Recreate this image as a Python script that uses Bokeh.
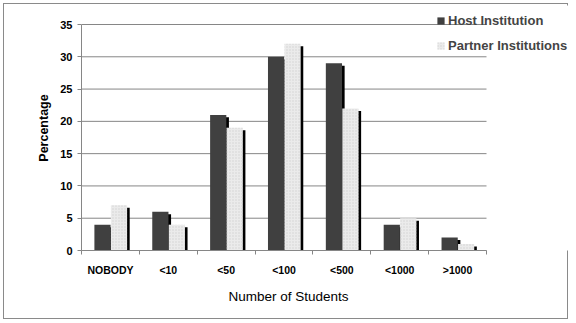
from bokeh.plotting import figure
from bokeh.models import (ColumnDataSource, FixedTicker, Legend, LegendItem, Range1d,
                          Title, InlineStyleSheet)
from bokeh.embed import file_html
from bokeh.resources import INLINE

categories = ["NOBODY", "<10", "<50", "<100", "<500", "<1000", ">1000"]
host = [4, 6, 21, 30, 29, 4, 2]
partner = [7, 4, 19, 32, 22, 5, 1]
y_ticks = [0, 5, 10, 15, 20, 25, 30, 35]

n = len(categories)
idx = list(range(n))
bw = 0.28
host_x = [i + 0.363 for i in idx]
partner_x = [i + 0.648 for i in idx]
dx = 0.045   # shadow offset (data units ~2.5px)
dy = 0.38

src = ColumnDataSource(dict(
    hx=host_x, px=partner_x,
    hsx=[x + dx for x in host_x], psx=[x + dx for x in partner_x],
    host=host, partner=partner,
    hs=[v - dy for v in host], ps=[v - dy for v in partner],
))

W, H = 571, 322
left, right, top, bottom = 81, 2, 5, 72
px_per_cat = 405 / n
px_per_unit = 226 / 35
x_end = (W - left - right) / px_per_cat
y_end = (H - top - bottom) / px_per_unit

p = figure(width=W, height=H, output_backend="svg", toolbar_location=None,
           x_range=Range1d(0, x_end), y_range=Range1d(0, y_end),
           min_border_left=left, min_border_right=right, min_border_top=top,
           min_border_bottom=bottom)
p.outline_line_color = None
p.background_fill_color = "white"
p.border_fill_alpha = 0
p.stylesheets = [InlineStyleSheet(css=":host { outline: 1.5px solid #8a8a8a; outline-offset: -4px; }")]

# grid lines (bounded to the category span)
p.segment(x0=[0] * len(y_ticks), x1=[n] * len(y_ticks), y0=y_ticks, y1=y_ticks,
          line_color="#868686", line_width=1)

# shadows and bars
p.vbar(x="hsx", top="hs", width=bw, bottom=0, source=src,
       fill_color="black", line_color=None)
r_host = p.vbar(x="hx", top="host", width=bw, bottom=0, source=src,
                fill_color="#404040", line_color=None)
p.vbar(x="psx", top="ps", width=bw, bottom=0, source=src,
       fill_color="black", line_color=None)
r_part = p.vbar(x="px", top="partner", width=bw, bottom=0, source=src,
                fill_color="#ebebeb", line_color=None,
                hatch_pattern="dot", hatch_color="#d2d2d2", hatch_scale=3,
                hatch_weight=1)

# axes
p.xgrid.grid_line_color = None
p.ygrid.grid_line_color = None
p.yaxis.ticker = FixedTicker(ticks=y_ticks)
p.xaxis.ticker = FixedTicker(ticks=[i + 0.5 for i in idx],
                             minor_ticks=list(range(n + 1)))
p.xaxis.major_label_overrides = {i + 0.5: c for i, c in enumerate(categories)}
p.xaxis.bounds = (0, n)
p.yaxis.bounds = (0, 35)

for ax in (p.xaxis[0], p.yaxis[0]):
    ax.axis_line_color = "#868686"
    ax.major_label_text_font = "Liberation Sans"
    ax.major_label_text_font_style = "bold"
    ax.major_label_text_font_size = "10.5px"
    ax.major_label_text_color = "black"

p.yaxis.major_label_text_font_size = "11px"
p.yaxis.major_tick_line_color = "#868686"
p.yaxis.major_tick_out = 4
p.yaxis.major_tick_in = 0
p.yaxis.minor_tick_line_color = None
p.yaxis.major_label_standoff = 5
p.yaxis.axis_label = "Percentage"
p.yaxis.axis_label_text_font = "Liberation Sans"
p.yaxis.axis_label_text_color = "black"
p.yaxis.axis_label_text_font_style = "bold"
p.yaxis.axis_label_text_font_size = "12.5px"
p.yaxis.axis_label_standoff = 6

p.xaxis.major_tick_line_color = None
p.xaxis.minor_tick_line_color = "#868686"
p.xaxis.minor_tick_out = 4
p.xaxis.minor_tick_in = 0
p.xaxis.major_label_standoff = 7

# x axis title, centred under the category span
xt = Title(text="Number of Students", align="left", offset=147, standoff=16,
           text_font="Liberation Sans", text_font_style="normal",
           text_font_size="13.5px", text_color="black")
p.add_layout(xt, "below")

# legend
legend = Legend(items=[LegendItem(label="Host Institution", renderers=[r_host]),
                       LegendItem(label="Partner Institutions", renderers=[r_part])],
                location=(355, 195))
legend.border_line_color = None
legend.background_fill_alpha = 0
legend.glyph_width = 9
legend.glyph_height = 9
legend.label_height = 20
legend.spacing = 5
legend.padding = 0
legend.margin = 0
legend.label_standoff = 3
legend.label_text_font = "Liberation Sans"
legend.label_text_font_style = "bold"
legend.label_text_font_size = "13px"
p.add_layout(legend)

open("out.html", "w").write(file_html(p, INLINE))
